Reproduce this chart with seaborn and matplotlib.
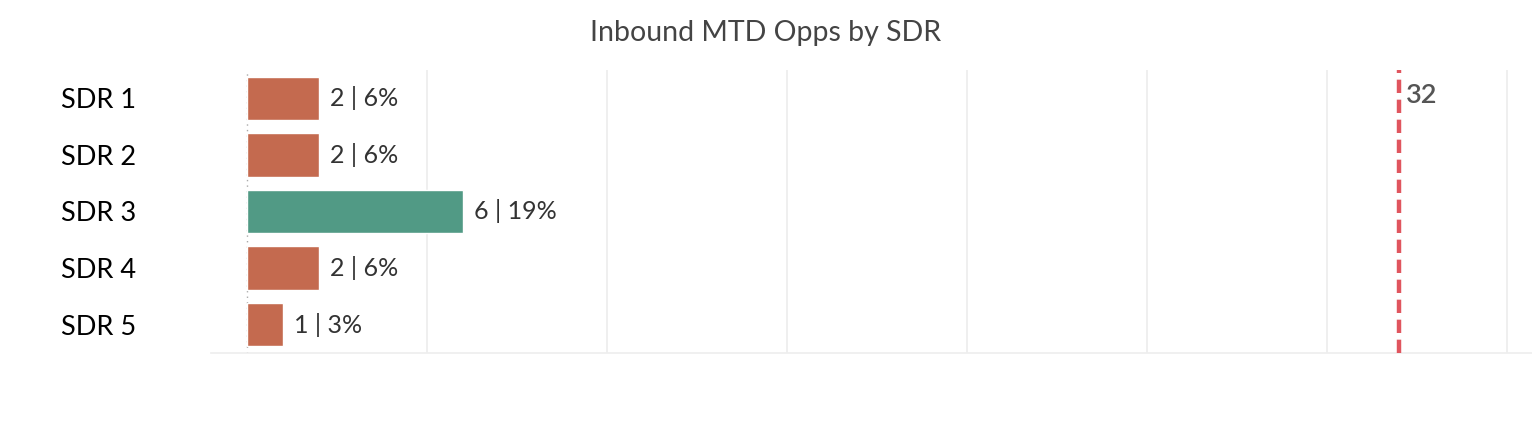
import matplotlib.pyplot as plt
import seaborn as sns
import pandas as pd

# chart values
reps = ['SDR 1', 'SDR 2', 'SDR 3', 'SDR 4', 'SDR 5']
opps = [2, 2, 6, 2, 1]
pct = ['6%', '6%', '19%', '6%', '3%']
top_rep = [False, False, True, False, False]
target = 32
grid_ticks = [5, 10, 15, 20, 25, 30, 35]

sns.set_theme(style='white')
plt.rcParams['font.family'] = ['Lato', 'DejaVu Sans']

df = pd.DataFrame({'rep': reps, 'opps': opps, 'pct': pct,
                   'group': ['top' if t else 'rest' for t in top_rep]})

fig = plt.figure(figsize=(15.32, 4.34), dpi=100)
ax = fig.add_axes([211 / 1532, 1 - 353 / 434, 1 - 211 / 1532, (353 - 70) / 434])

sns.barplot(data=df, x='opps', y='rep', hue='group', orient='h',
            palette={'rest': '#C46A4F', 'top': '#519A85'},
            dodge=False, width=0.77, legend=False, ax=ax, saturation=1)

for i, row in df.iterrows():
    ax.text(row['opps'] + 0.3, i, f"{row['opps']} | {row['pct']}",
            va='center', ha='left', fontsize=18, color='#333333')

ax.axvline(target, color='#E0555E', linestyle=(0, (3, 1.5)), linewidth=3.2, zorder=3)
ax.text(target + 0.2, -0.05, str(target), va='center', ha='left',
        fontsize=19.5, color='#555555', fontweight='semibold')
ax.axvline(0, color='#aaaaaa', linestyle=(0, (1, 3)), linewidth=1, zorder=0)

ax.set_xlim(-1, 35.7)
ax.set_ylim(4.5, -0.5)
ax.set_xticks(grid_ticks)
ax.xaxis.grid(True, color='#ececec', linewidth=1.2)
ax.set_axisbelow(True)
ax.tick_params(axis='x', length=0, labelbottom=False)
ax.tick_params(axis='y', length=0, pad=81, labelsize=19.5)
for lbl in ax.get_yticklabels():
    lbl.set_ha('center')
    lbl.set_color('#000000')
ax.set_xlabel('')
ax.set_ylabel('')
for side in ['top', 'right', 'left']:
    ax.spines[side].set_visible(False)
ax.spines['bottom'].set_color('#eeeeee')

fig.text(0.5, 1 - 33 / 434, 'Inbound MTD Opps by SDR', ha='center', va='center',
         fontsize=20.5, color='#444444')

fig.savefig('out.png', dpi=100)
